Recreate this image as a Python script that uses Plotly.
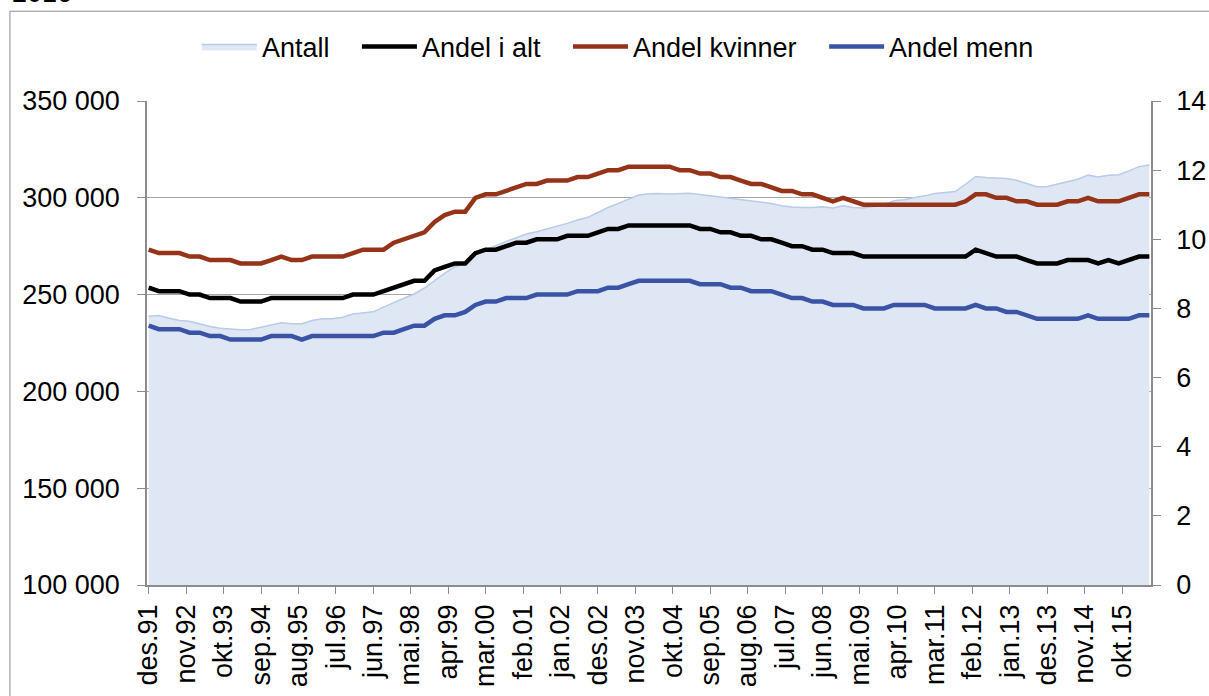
import pandas as pd
import plotly.graph_objects as go

# kvartalsvise verdier, des.91 - jun.16
kvartaler = pd.date_range("1991-12-01", periods=99, freq="3MS")

antall = [
    238800, 239200, 237800, 236600, 236200, 234900, 233500, 232600, 232100, 231800,
    232000, 233200, 234400, 235400, 234900, 234900, 236600, 237500, 237500, 238300,
    240000, 240500, 241100, 243500, 246000, 248100, 250300, 253400, 257200, 261000,
    264400, 266300, 271000, 273000, 275300, 277500, 279500, 281300, 282500, 283900,
    285200, 286800, 288500, 289900, 292400, 295000, 297100, 299300, 301400, 302100,
    302200, 301900, 302100, 302400, 301700, 301000, 300500, 299800, 298800, 298100,
    297600, 297100, 295900, 295200, 295000, 295000, 295400, 294700, 295900, 295000,
    294700, 295400, 296400, 298500, 299000, 300200, 301000, 302200, 302700, 303200,
    307000, 311000, 310500, 310200, 310000, 309100, 307400, 305700, 305800, 307000,
    308200, 309600, 311700, 310800, 311700, 311900, 313900, 316100, 317000,
]

andel_i_alt = [
    8.6, 8.5, 8.5, 8.5, 8.4, 8.4, 8.3, 8.3, 8.3, 8.2,
    8.2, 8.2, 8.3, 8.3, 8.3, 8.3, 8.3, 8.3, 8.3, 8.3,
    8.4, 8.4, 8.4, 8.5, 8.6, 8.7, 8.8, 8.8, 9.1, 9.2,
    9.3, 9.3, 9.6, 9.7, 9.7, 9.8, 9.9, 9.9, 10.0, 10.0,
    10.0, 10.1, 10.1, 10.1, 10.2, 10.3, 10.3, 10.4, 10.4, 10.4,
    10.4, 10.4, 10.4, 10.4, 10.3, 10.3, 10.2, 10.2, 10.1, 10.1,
    10.0, 10.0, 9.9, 9.8, 9.8, 9.7, 9.7, 9.6, 9.6, 9.6,
    9.5, 9.5, 9.5, 9.5, 9.5, 9.5, 9.5, 9.5, 9.5, 9.5,
    9.5, 9.7, 9.6, 9.5, 9.5, 9.5, 9.4, 9.3, 9.3, 9.3,
    9.4, 9.4, 9.4, 9.3, 9.4, 9.3, 9.4, 9.5, 9.5,
]

andel_kvinner = [
    9.7, 9.6, 9.6, 9.6, 9.5, 9.5, 9.4, 9.4, 9.4, 9.3,
    9.3, 9.3, 9.4, 9.5, 9.4, 9.4, 9.5, 9.5, 9.5, 9.5,
    9.6, 9.7, 9.7, 9.7, 9.9, 10.0, 10.1, 10.2, 10.5, 10.7,
    10.8, 10.8, 11.2, 11.3, 11.3, 11.4, 11.5, 11.6, 11.6, 11.7,
    11.7, 11.7, 11.8, 11.8, 11.9, 12.0, 12.0, 12.1, 12.1, 12.1,
    12.1, 12.1, 12.0, 12.0, 11.9, 11.9, 11.8, 11.8, 11.7, 11.6,
    11.6, 11.5, 11.4, 11.4, 11.3, 11.3, 11.2, 11.1, 11.2, 11.1,
    11.0, 11.0, 11.0, 11.0, 11.0, 11.0, 11.0, 11.0, 11.0, 11.0,
    11.1, 11.3, 11.3, 11.2, 11.2, 11.1, 11.1, 11.0, 11.0, 11.0,
    11.1, 11.1, 11.2, 11.1, 11.1, 11.1, 11.2, 11.3, 11.3,
]

andel_menn = [
    7.5, 7.4, 7.4, 7.4, 7.3, 7.3, 7.2, 7.2, 7.1, 7.1,
    7.1, 7.1, 7.2, 7.2, 7.2, 7.1, 7.2, 7.2, 7.2, 7.2,
    7.2, 7.2, 7.2, 7.3, 7.3, 7.4, 7.5, 7.5, 7.7, 7.8,
    7.8, 7.9, 8.1, 8.2, 8.2, 8.3, 8.3, 8.3, 8.4, 8.4,
    8.4, 8.4, 8.5, 8.5, 8.5, 8.6, 8.6, 8.7, 8.8, 8.8,
    8.8, 8.8, 8.8, 8.8, 8.7, 8.7, 8.7, 8.6, 8.6, 8.5,
    8.5, 8.5, 8.4, 8.3, 8.3, 8.2, 8.2, 8.1, 8.1, 8.1,
    8.0, 8.0, 8.0, 8.1, 8.1, 8.1, 8.1, 8.0, 8.0, 8.0,
    8.0, 8.1, 8.0, 8.0, 7.9, 7.9, 7.8, 7.7, 7.7, 7.7,
    7.7, 7.7, 7.8, 7.7, 7.7, 7.7, 7.7, 7.8, 7.8,
]

# akseetiketter hver 11. maaned
mnd = ["jan", "feb", "mar", "apr", "mai", "jun", "jul", "aug", "sep", "okt", "nov", "des"]
tick_datoer = pd.date_range("1991-12-01", periods=27, freq="11MS")
tick_tekst = [f"{mnd[d.month - 1]}.{d.strftime('%y')}" for d in tick_datoer]

FONT = "Liberation Sans, Arial, sans-serif"
GRAA = "#8c8c8c"
LUFT = "\u00a0" * 3  # ekstra avstand mellom forklaringene

fig = go.Figure()

fig.add_trace(go.Scatter(
    x=kvartaler, y=antall, name="Antall" + LUFT, mode="lines",
    fill="tozeroy", fillcolor="#dee7f3",
    line=dict(color="#b9cbe8", width=1.5),
))
fig.add_trace(go.Scatter(x=kvartaler, y=andel_i_alt, name="Andel i alt" + LUFT, mode="lines",
                         line=dict(color="#000000", width=4.5), yaxis="y2"))
fig.add_trace(go.Scatter(x=kvartaler, y=andel_kvinner, name="Andel kvinner" + LUFT, mode="lines",
                         line=dict(color="#953419", width=4.5), yaxis="y2"))
fig.add_trace(go.Scatter(x=kvartaler, y=andel_menn, name="Andel menn", mode="lines",
                         line=dict(color="#3a53a4", width=4.5), yaxis="y2"))

# ramme rundt figuren (delvis utenfor bildet)
fig.add_shape(type="rect", xref="paper", yref="paper",
              x0=-0.1365, x1=1.2, y0=-0.4, y1=1.1855,
              line=dict(color=GRAA, width=1), layer="below")

fig.add_annotation(text="2016", xref="paper", yref="paper",
                   x=-0.1365, y=1.188, xanchor="left", yanchor="bottom",
                   showarrow=False, font=dict(size=27, color="black", family=FONT))

fig.update_layout(
    width=1209, height=696,
    margin=dict(l=147, r=58, t=101, b=111),
    paper_bgcolor="white", plot_bgcolor="white",
    font=dict(family=FONT, size=27, color="black"),
    separators=", ",
    showlegend=True,
    legend=dict(orientation="h", x=0.469, xanchor="center", y=1.1116, yanchor="middle",
                font=dict(size=27), bgcolor="rgba(0,0,0,0)", traceorder="normal",
                itemwidth=55),
    xaxis=dict(
        type="date", range=["1991-11-16", "2016-06-16"],
        tickvals=tick_datoer, ticktext=tick_tekst, tickangle=-90,
        ticks="outside", ticklen=7, tickcolor=GRAA, tickwidth=1,
        showline=True, linecolor=GRAA, linewidth=1.5,
        showgrid=False, zeroline=False, automargin=False,
    ),
    yaxis=dict(
        range=[100000, 350000], dtick=50000, tickformat=",d",
        ticks="outside", ticklen=8, tickcolor=GRAA,
        showline=True, linecolor=GRAA, linewidth=1.5,
        showgrid=True, gridcolor="#a6a6a6", gridwidth=1.2,
        zeroline=False, ticklabelstandoff=12, automargin=False,
    ),
    yaxis2=dict(
        range=[0, 14], dtick=2, overlaying="y", side="right",
        ticks="outside", ticklen=8, tickcolor=GRAA,
        showline=True, linecolor=GRAA, linewidth=1.5,
        showgrid=False, zeroline=False, ticklabelstandoff=10, automargin=False,
    ),
)

# fjern nettleserens standardmarg rundt figuren
fig.write_html("out.html", config={"displayModeBar": False},
               post_script="document.body.style.margin='0';")
